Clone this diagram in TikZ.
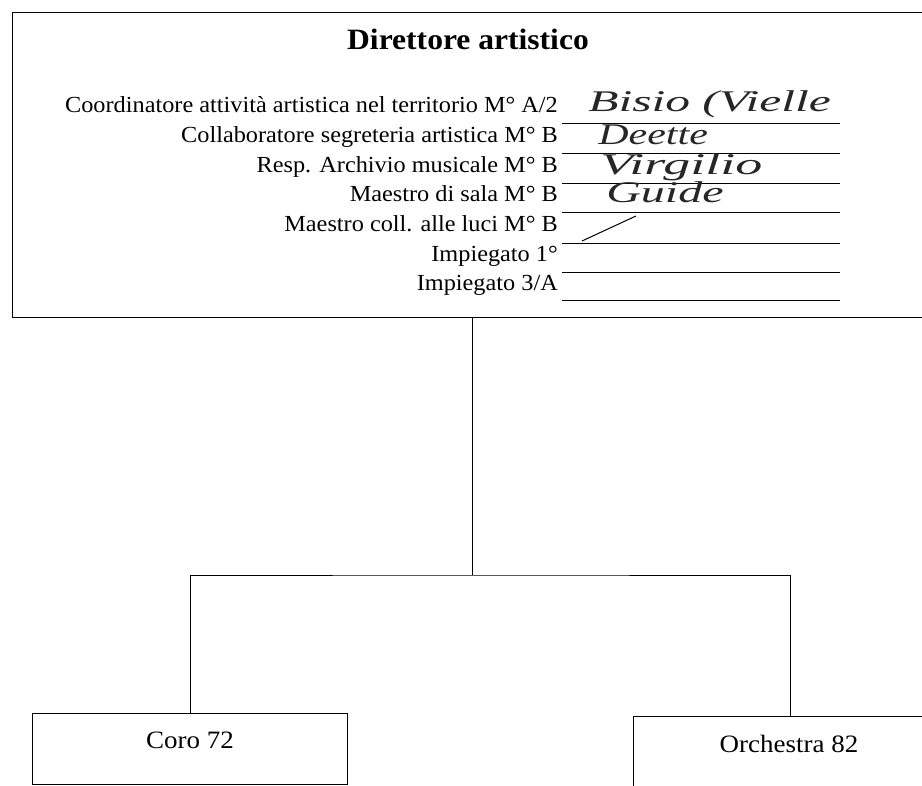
\documentclass[tikz,border=0pt]{standalone}
\usepackage{fontspec}
\setmainfont{Liberation Serif}
\begin{document}
\begin{tikzpicture}[x=1pt,y=1pt,
  box/.style={draw, line width=1.3pt, rectangle, inner sep=0pt},
  conn/.style={draw, line width=0.9pt},
  rowtxt/.style={anchor=base east, inner sep=0pt, font=\fontsize{23}{26}\selectfont, xscale=1.056, transform shape},
  hand/.style={anchor=base west, inner sep=0pt, font=\fontsize{30}{32}\itshape, text=black!85, transform shape},
  rule/.style={line width=0.9pt},
  boxtxt/.style={inner sep=0pt, font=\fontsize{25}{28}\selectfont, xscale=1.08, transform shape}]
\useasboundingbox (0,0) rectangle (922,-786);
\fill[white] (0,0) rectangle (922,-786);
% top box
\node[box, minimum width=920, minimum height=305, anchor=north west] (dir) at (12,-12) {};
\node[inner sep=0pt, anchor=base, font=\fontsize{29.5}{32}\bfseries\selectfont, xscale=1.07, transform shape] (title) at (468,-50) {Direttore artistico};
% rows
\node[rowtxt] (r1) at (558,-113) {Coordinatore attività artistica nel territorio M° A/2};
\node[rowtxt] (r2) at (558,-143) {Collaboratore segreteria artistica M° B};
\node[rowtxt] (r3) at (558,-173) {Resp. Archivio musicale M° B};
\node[rowtxt] (r4) at (558,-202) {Maestro di sala M° B};
\node[rowtxt] (r5) at (558,-232) {Maestro coll. alle luci M° B};
\node[rowtxt] (r6) at (558,-262) {Impiegato 1°};
\node[rowtxt] (r7) at (558,-291) {Impiegato 3/A};
\foreach \yy in {123,153,183,212,243,272,300}{
  \draw[rule] (562,-\yy) -- (840,-\yy);
}
% handwriting
\node[hand, xscale=1.65] (h1) at (588,-112) {Bisio (Vielle};
\node[hand, xscale=1.4] (h2) at (598,-145) {Deette};
\node[hand, xscale=1.8] (h3) at (600,-175) {Virgilio};
\node[hand, xscale=1.6] (h4) at (606,-203) {Guide};
\draw[line width=1pt] (582,-241) -- (636,-216);
% lower boxes
\node[box, minimum width=315, minimum height=71, anchor=north west] (coro) at (32,-713) {};
\node[boxtxt, anchor=base] (corot) at (190,-748) {Coro 72};
\node[box, minimum width=314, minimum height=80, anchor=north west] (orch) at (633,-716) {};
\node[boxtxt, anchor=base] (orcht) at (789,-752) {Orchestra 82};
% connectors
\coordinate (j) at (472,-575);
\draw[conn] (472,-317) -- (j);
\draw[conn] (coro.north) |- (j) -| (orch.north);
\end{tikzpicture}
\end{document}
